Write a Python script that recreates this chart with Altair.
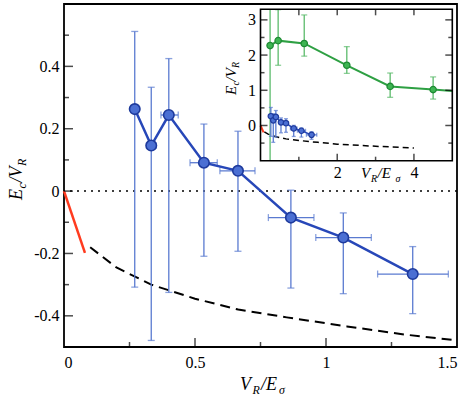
import altair as alt
import pandas as pd

FONT = "Liberation Serif"

# ---- main blue series (V_R/E_sigma, E_c/V_R) with error bars ----
bx = [0.27, 0.333, 0.40, 0.534, 0.664, 0.866, 1.066, 1.331]
by = [0.263, 0.146, 0.244, 0.091, 0.065, -0.085, -0.149, -0.266]
by_lo = [-0.308, -0.479, -0.325, -0.209, -0.193, -0.311, -0.329, -0.393]
by_hi = [0.512, 0.333, 0.425, 0.215, 0.192, 0.003, -0.070, -0.178]
bx_lo = [0.256, 0.315, 0.370, 0.481, 0.595, 0.780, 0.961, 1.197]
bx_hi = [0.284, 0.351, 0.436, 0.585, 0.729, 0.954, 1.173, 1.467]

# ---- red short line near origin ----
red_x = [0.0, 0.08]
red_y = [0.0, -0.198]

# ---- black dashed curve ----
dash_x = [0.10, 0.20, 0.333, 0.50, 0.665, 0.85, 1.08, 1.30, 1.50, 2.0, 3.0, 4.0]
dash_y = [-0.180, -0.245, -0.300, -0.345, -0.380, -0.405, -0.434, -0.460, -0.479, -0.53, -0.59, -0.64]

# ---- inset green series ----
gx = [0.25, 0.46, 1.14, 2.25, 3.38, 4.50]
gy = [2.27, 2.41, 2.33, 1.71, 1.11, 1.02]
gy_lo = [-1.0, 1.71, 1.97, 1.48, 0.80, 0.75]
gy_hi = [3.3, 3.29, 3.14, 2.24, 1.49, 1.38]
g_line_x = gx + [5.0]
g_line_y = gy + [0.98]

# ---- tick values ----
main_y_labels = [-0.4, -0.2, 0.0, 0.2, 0.4]
main_y_minor = [-0.3, -0.1, 0.1, 0.3, 0.5]
main_x_labels = [0.0, 0.5, 1.0, 1.5]
main_x_major = [0.5, 1.0]
main_x_minor = [0.25, 0.75, 1.25]
inset_y_labels = [0, 1, 2, 3]
inset_y_minor = [-0.5, 0.5, 1.5, 2.5]
inset_x_labels = [2, 4]
inset_x_major = [2, 4]
inset_x_minor = [1, 3]
inset_x_top = [1, 2, 3, 4]

BLUE_LINE = "#2747b8"
BLUE_FILL = "#4b6fd3"
BLUE_EDGE = "#1e3a9c"
BLUE_ERR = "#5a7ad0"
GREEN_LINE = "#2ea043"
GREEN_FILL = "#3db552"
GREEN_EDGE = "#1e8a34"
GREEN_ERR = "#5cbb6c"
RED = "#ff3b1f"

MX = alt.Scale(domain=[0, 1.5], nice=False, zero=False)
MY = alt.Scale(domain=[-0.5, 0.6], nice=False, zero=False)
IX = alt.Scale(domain=[0, 5], range=[196.5, 388.3], nice=False, zero=False)
IY = alt.Scale(domain=[-1, 3.3], range=[156.7, 5.3], nice=False, zero=False)

MXA = alt.Axis(values=main_x_labels, ticks=False, domain=False, grid=False,
               labelExpr="toString(datum.value)", labelFont=FONT, labelFontSize=16,
               labelColor="black", labelPadding=7, title=None)
MYA = alt.Axis(values=main_y_labels, ticks=False, domain=False, grid=False,
               labelExpr="datum.value == 0 ? '0' : (datum.value < 0 ? '-' + format(-datum.value, '.1f') : format(datum.value, '.1f'))",
               labelFont=FONT, labelFontSize=16, labelColor="black", labelPadding=5, title=None)
IXA = alt.Axis(orient="bottom", offset=-186.3, values=inset_x_labels, ticks=False, domain=False,
               grid=False, labelExpr="toString(datum.value)", labelFont=FONT, labelFontSize=16,
               labelColor="black", labelPadding=4, title=None)
IYA = alt.Axis(orient="left", offset=-196.5, values=inset_y_labels, ticks=False, domain=False,
               grid=False, labelExpr="toString(datum.value)", labelFont=FONT, labelFontSize=16,
               labelColor="black", labelPadding=5, title=None)


def X(f, sc, ax):
    return alt.X(f, type="quantitative", scale=sc, axis=ax)


def Y(f, sc, ax):
    return alt.Y(f, type="quantitative", scale=sc, axis=ax)


def series_layers(xs, ys, ylo, yhi, xlo, xhi, sc_x, sc_y, ax_x, ax_y, err_col, cap, caps_skip=()):
    df = pd.DataFrame({"x": xs, "y": ys, "ylo": ylo, "yhi": yhi})
    cap_df = df.drop(index=list(caps_skip))
    layers = [
        alt.Chart(df).mark_rule(color=err_col, strokeWidth=1.3).encode(
            x=X("x", sc_x, ax_x), y=Y("ylo", sc_y, ax_y), y2="yhi"),
        alt.Chart(cap_df).mark_tick(orient="horizontal", size=cap, thickness=1.3, color=err_col).encode(
            x=X("x", sc_x, ax_x), y=Y("ylo", sc_y, ax_y)),
        alt.Chart(cap_df).mark_tick(orient="horizontal", size=cap, thickness=1.3, color=err_col).encode(
            x=X("x", sc_x, ax_x), y=Y("yhi", sc_y, ax_y)),
    ]
    if xlo is not None:
        hdf = pd.DataFrame({"y": ys, "xlo": xlo, "xhi": xhi})
        layers += [
            alt.Chart(hdf).mark_rule(color=err_col, strokeWidth=1.3).encode(
                x=X("xlo", sc_x, ax_x), x2="xhi", y=Y("y", sc_y, ax_y)),
            alt.Chart(hdf).mark_tick(orient="vertical", size=cap, thickness=1.3, color=err_col).encode(
                x=X("xlo", sc_x, ax_x), y=Y("y", sc_y, ax_y)),
            alt.Chart(hdf).mark_tick(orient="vertical", size=cap, thickness=1.3, color=err_col).encode(
                x=X("xhi", sc_x, ax_x), y=Y("y", sc_y, ax_y)),
        ]
    return layers


def line_layer(xs, ys, sc_x, sc_y, ax_x, ax_y, color, width, dash=None, clip=False):
    df = pd.DataFrame({"x": xs, "y": ys})
    kw = dict(color=color, strokeWidth=width, clip=clip)
    if dash is not None:
        kw["strokeDash"] = dash
    return alt.Chart(df).mark_line(**kw).encode(x=X("x", sc_x, ax_x), y=Y("y", sc_y, ax_y))


def point_layer(xs, ys, sc_x, sc_y, ax_x, ax_y, fill, edge, size, sw):
    df = pd.DataFrame({"x": xs, "y": ys})
    return alt.Chart(df).mark_point(shape="circle", filled=False, fill=fill, stroke=edge,
                                    strokeWidth=sw, size=size, opacity=1, fillOpacity=1).encode(
        x=X("x", sc_x, ax_x), y=Y("y", sc_y, ax_y))


def yticks(vals, xdatum, sc_x, sc_y, ax_x, ax_y, length, direction):
    df = pd.DataFrame({"v": vals})
    return alt.Chart(df).mark_tick(orient="horizontal", size=length, thickness=1.5, color="black",
                                   xOffset=direction * length / 2).encode(
        x=alt.XDatum(xdatum, type="quantitative", scale=sc_x, axis=ax_x),
        y=Y("v", sc_y, ax_y))


def xticks(vals, ydatum, sc_x, sc_y, ax_x, ax_y, length, direction):
    df = pd.DataFrame({"v": vals})
    return alt.Chart(df).mark_tick(orient="vertical", size=length, thickness=1.5, color="black",
                                   yOffset=direction * length / 2).encode(
        x=X("v", sc_x, ax_x),
        y=alt.YDatum(ydatum, type="quantitative", scale=sc_y, axis=ax_y))


def piece(txt, x, y, size, angle=0):
    return alt.Chart(pd.DataFrame({"t": [txt]})).mark_text(
        align="left", baseline="alphabetic", font=FONT, fontStyle="italic",
        fontSize=size, angle=angle, color="black").encode(
        x=alt.value(x), y=alt.value(y), text="t:N")


# ================= main panel =================
main_layers = [
    alt.Chart(pd.DataFrame({"y": [0.0]})).mark_rule(color="black", strokeDash=[2, 5], strokeWidth=1.5).encode(
        y=Y("y", MY, MYA)),
    line_layer(red_x, red_y, MX, MY, MXA, MYA, RED, 2.5),
    line_layer(dash_x, dash_y, MX, MY, MXA, MYA, "black", 2, dash=[10, 6], clip=True),
]
main_layers += series_layers(bx, by, by_lo, by_hi, bx_lo, bx_hi, MX, MY, MXA, MYA, BLUE_ERR, 7)
main_layers += [
    line_layer(bx, by, MX, MY, MXA, MYA, BLUE_LINE, 2.5),
    point_layer(bx, by, MX, MY, MXA, MYA, BLUE_FILL, BLUE_EDGE, 110, 1.6),
    yticks(main_y_labels, 0, MX, MY, MXA, MYA, 9, 1),
    yticks(main_y_minor, 0, MX, MY, MXA, MYA, 5, 1),
    xticks(main_x_major, -0.5, MX, MY, MXA, MYA, 9, -1),
    xticks(main_x_minor, -0.5, MX, MY, MXA, MYA, 5, -1),
    # x title  V_R / E_sigma
    piece("V", 176, 386, 18),
    piece("R", 188.5, 390, 12),
    piece("/E", 197, 386, 18),
    piece("σ", 215, 390, 12),
    # y title  E_c / V_R (rotated)
    piece("E", -42, 196, 18, 270),
    piece("c", -38, 184.5, 12, 270),
    piece("/V", -42, 178.5, 18, 270),
    piece("R", -38, 162, 12, 270),
]
main = alt.layer(*main_layers)

# ================= inset panel =================
frame_df = pd.DataFrame({"x0": [0], "x1": [5], "y0": [-1.0], "y1": [3.3]})
inset_layers = [
    alt.Chart(frame_df).mark_rect(fill="white", stroke=None).encode(
        x=X("x0", IX, IXA), x2="x1", y=Y("y0", IY, IYA), y2="y1"),
    line_layer(dash_x, dash_y, IX, IY, IXA, IYA, "black", 1.5, dash=[6, 4]),
    line_layer(red_x, red_y, IX, IY, IXA, IYA, RED, 2),
]
inset_layers += series_layers(gx, gy, gy_lo, gy_hi, None, None, IX, IY, IXA, IYA, GREEN_ERR, 6,
                              caps_skip=(0,))
inset_layers += [
    line_layer(g_line_x, g_line_y, IX, IY, IXA, IYA, GREEN_LINE, 2),
    point_layer(gx, gy, IX, IY, IXA, IYA, GREEN_FILL, GREEN_EDGE, 40, 1.3),
]
inset_layers += series_layers(bx, by, by_lo, by_hi, bx_lo, bx_hi, IX, IY, IXA, IYA, BLUE_ERR, 4)
inset_layers += [
    line_layer(bx, by, IX, IY, IXA, IYA, BLUE_LINE, 1.5),
    point_layer(bx, by, IX, IY, IXA, IYA, BLUE_FILL, BLUE_EDGE, 30, 1.2),
    yticks(inset_y_labels, 0, IX, IY, IXA, IYA, 7, 1),
    yticks(inset_y_minor, 0, IX, IY, IXA, IYA, 4, 1),
    yticks(inset_y_labels, 5, IX, IY, IXA, IYA, 7, -1),
    yticks(inset_y_minor, 5, IX, IY, IXA, IYA, 4, -1),
    xticks(inset_x_major, -1, IX, IY, IXA, IYA, 7, -1),
    xticks(inset_x_minor, -1, IX, IY, IXA, IYA, 4, -1),
    xticks(inset_x_top, 3.3, IX, IY, IXA, IYA, 6, 1),
    alt.Chart(frame_df).mark_rect(fill=None, stroke="black", strokeWidth=1.6).encode(
        x=X("x0", IX, IXA), x2="x1", y=Y("y0", IY, IYA), y2="y1"),
    # inset x title
    piece("V", 297, 174, 15),
    piece("R", 307, 178, 10),
    piece("/E", 313.5, 174, 15),
    piece("σ", 331.5, 178, 10),
    # inset y title (rotated)
    piece("E", 172, 91, 15, 270),
    piece("c", 175, 81.5, 10, 270),
    piece("/V", 172, 77.5, 15, 270),
    piece("R", 175, 64, 10, 270),
]
inset = alt.layer(*inset_layers)

chart = alt.layer(main, inset).resolve_scale(x="independent", y="independent").properties(
    width=393, height=343,
    padding={"left": 64, "top": 4, "right": 11, "bottom": 49},
    autosize="none",
    background="white",
).configure_view(stroke="black", strokeWidth=1.8).configure_axis(
    grid=False, labelFont=FONT, labelFontSize=16, labelColor="black")

chart.save("out.html", embed_options={"renderer": "svg", "actions": False})
